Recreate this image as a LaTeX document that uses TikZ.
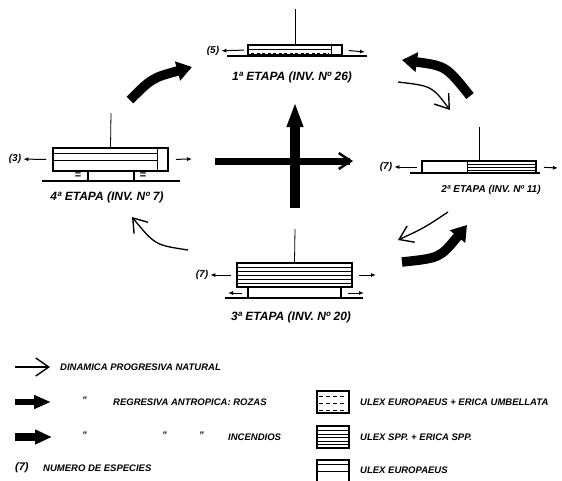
\documentclass[tikz,border=0pt]{standalone}
\usepackage{fontspec}
\setmainfont{Liberation Sans}
\usetikzlibrary{arrows.meta}

\tikzset{
  etapa/.style={font=\fontsize{12}{12}\selectfont\bfseries\itshape, inner sep=0pt},
  leyenda/.style={font=\fontsize{9.5}{10}\selectfont\bfseries\itshape, inner sep=0pt, anchor=west},
  cuenta/.style={font=\fontsize{10}{10}\selectfont\bfseries\itshape, inner sep=0pt},
  caja/.style={draw, line width=1.6pt, inner sep=0pt},
  suelo/.style={line width=1.6pt},
  tallo/.style={line width=0.8pt},
  capa/.style={line width=0.7pt},
  flujo/.style={line width=1pt, -{Latex[length=5pt,width=4pt]}},
  natural/.style={line width=1.3pt, -{Straight Barb[length=13pt,width=18pt,line width=1.4pt]}},
  rozas/.style={line width=9.5pt, -{Triangle[length=15pt,width=19pt]}},
}

\begin{document}
\begin{tikzpicture}[x=1pt, y=-1pt]
  \useasboundingbox (0,0) rectangle (562,480);

  % 1a etapa
  \node (b1) at (295,50) [caja, minimum width=94pt, minimum height=10pt] {};
  \draw[capa] (331,45) -- (331,55);
  \draw[capa] (248,49) -- (331,49);
  \draw[capa, dash pattern=on 3pt off 2.5pt] (251,53) -- (329,53);
  \coordinate (t1) at (295,9);
  \draw[tallo] (b1.north) -- (t1);
  \draw[suelo] (227,56) -- (367,56);
  \node (n5) at (213,51) [cuenta] {(5)};
  \coordinate (o1) at (365,52);
  \draw[flujo, shorten <=3pt, shorten >=2pt] (b1.west) -- (n5);
  \draw[flujo, shorten <=6pt] (b1.east) -- (o1);
  \node (e1) at (292,77) [etapa] {1ª ETAPA (INV. Nº 26)};

  % 2a etapa
  \node (b2) at (479,167) [caja, minimum width=114pt, minimum height=12pt] {};
  \draw[capa] (467,161) -- (467,173);
  \foreach \y in {164.5,167.5,170.5}
    \draw[capa] (467,\y) -- (536,\y);
  \coordinate (t2) at (479,127);
  \draw[tallo] (b2.north) -- (t2);
  \draw[suelo] (410,173) -- (540,173);
  \node (n7a) at (386,167) [cuenta] {(7)};
  \coordinate (o2) at (558,168);
  \draw[flujo, shorten <=4pt, shorten >=2pt] (b2.west) -- (n7a);
  \draw[flujo, shorten <=7pt] (b2.east) -- (o2);
  \node (e2) at (491,190) [etapa, font=\fontsize{10}{10}\selectfont\bfseries\itshape] {2ª ETAPA (INV. Nº 11)};

  % 3a etapa
  \node (b3) at (294.5,275) [caja, minimum width=115pt, minimum height=24pt] {};
  \foreach \y in {267,271,275,279,283}
    \draw[capa] (237,\y) -- (352,\y);
  \coordinate (t3) at (295,229);
  \draw[tallo] (b3.north) -- (t3);
  \draw[line width=1.2pt] (248,287) -- (248,298) (341,287) -- (341,298);
  \draw[suelo] (225,298) -- (363,298);
  \coordinate (p3a) at (242,293); \coordinate (q3a) at (228,293);
  \coordinate (p3b) at (348,293); \coordinate (q3b) at (364,293);
  \draw[flujo] (p3a) -- (q3a);
  \draw[flujo] (p3b) -- (q3b);
  \node (n7b) at (202,275) [cuenta] {(7)};
  \coordinate (o3) at (376,275);
  \draw[flujo, shorten <=5pt, shorten >=2pt] (b3.west) -- (n7b);
  \draw[flujo, shorten <=6pt] (b3.east) -- (o3);
  \node (e3) at (291,317) [etapa] {3ª ETAPA (INV. Nº 20)};

  % 4a etapa
  \node (b4) at (110.5,159.5) [caja, minimum width=115pt, minimum height=23pt] {};
  \draw[capa] (157,148) -- (157,171);
  \draw[capa] (53,153) -- (157,153) (53,160) -- (157,160);
  \coordinate (t4) at (111,113);
  \draw[tallo] (b4.north) -- (t4);
  \draw[line width=1.2pt] (88,171) -- (88,181) (134,171) -- (134,181);
  \draw[suelo] (42,181) -- (180,181);
  \node (eq1) at (78,176) [cuenta, font=\fontsize{11}{11}\selectfont\bfseries] {=};
  \node (eq2) at (143,176) [cuenta, font=\fontsize{11}{11}\selectfont\bfseries] {=};
  \node (n3) at (15,159) [cuenta] {(3)};
  \coordinate (o4) at (192,159);
  \draw[flujo, shorten <=6pt, shorten >=2pt] (b4.west) -- (n3);
  \draw[flujo, shorten <=7pt] (b4.east) -- (o4);
  \node (e4) at (107,197) [etapa] {4ª ETAPA (INV. Nº 7)};

  % ciclo
  \coordinate (r41s) at (130,100); \coordinate (r41e) at (192,67);
  \draw[rozas] (r41s) .. controls (152,78) .. (r41e);
  \coordinate (r21s) at (470,96); \coordinate (r21e) at (402,60);
  \draw[rozas] (r21s) .. controls (446,66) .. (r21e);
  \coordinate (r32s) at (402,262); \coordinate (r32e) at (467,225);
  \draw[rozas] (r32s) .. controls (440,258) .. (r32e);
  \coordinate (n12s) at (398,82); \coordinate (n12e) at (450,110);
  \draw[natural] (n12s) .. controls (432,86) .. (n12e);
  \coordinate (n23s) at (448,212); \coordinate (n23e) at (398,240);
  \draw[natural] (n23s) .. controls (424,228) .. (n23e);
  \coordinate (n34s) at (188,250); \coordinate (n34e) at (132,217);
  \draw[natural] (n34s) .. controls (155,245) .. (n34e);

  % cruz central
  \coordinate (h1) at (215,161); \coordinate (h2) at (353,161);
  \draw[line width=7pt, -{Straight Barb[length=12pt,width=16pt,line width=2.5pt]}] (h1) -- (h2);
  \coordinate (v1) at (295,208); \coordinate (v2) at (295,102);
  \draw[line width=10pt, -{Triangle[length=25pt,width=15pt]}] (v1) -- (v2);

  % leyenda
  \coordinate (l1a) at (15,367); \coordinate (l1b) at (50,367);
  \draw[natural] (l1a) -- (l1b);
  \node (ley1) at (60,367) [leyenda] {DINAMICA PROGRESIVA NATURAL};
  \coordinate (l2a) at (15,402); \coordinate (l2b) at (51,402);
  \draw[line width=6.5pt, -{Triangle[length=17pt,width=13pt]}] (l2a) -- (l2b);
  \node (c2) at (82,400) [leyenda] {''};
  \node (ley2) at (113,402) [leyenda] {REGRESIVA ANTROPICA: ROZAS};
  \coordinate (l3a) at (15,437); \coordinate (l3b) at (52,437);
  \draw[line width=8pt, -{Triangle[length=17pt,width=14pt]}] (l3a) -- (l3b);
  \node (c3a) at (82,435) [leyenda] {''};
  \node (c3b) at (162,435) [leyenda] {''};
  \node (c3c) at (199,435) [leyenda] {''};
  \node (ley3) at (228,437) [leyenda] {INCENDIOS};
  \node (n7c) at (15,468) [cuenta, anchor=west, font=\fontsize{11}{11}\selectfont\bfseries\itshape] {(7)};
  \node (ley4) at (43,468) [leyenda] {NUMERO DE ESPECIES};

  \node (k1) at (333,402) [caja, minimum width=32pt, minimum height=22pt] {};
  \foreach \y in {396,403,410}
    \draw[capa, dash pattern=on 4pt off 3pt] (319,\y) -- (347,\y);
  \node (k2) at (333,437) [caja, minimum width=32pt, minimum height=22pt] {};
  \foreach \y in {430.5,434,437.5,441,444.5}
    \draw[capa] (317,\y) -- (349,\y);
  \node (k3) at (333,471) [caja, minimum width=32pt, minimum height=22pt] {};
  \draw[capa] (317,464) -- (349,464) (317,471) -- (349,471);
  \node (ley5) at (360,402) [leyenda] {ULEX EUROPAEUS + ERICA UMBELLATA};
  \node (ley6) at (360,437) [leyenda] {ULEX SPP. + ERICA SPP.};
  \node (ley7) at (360,470) [leyenda] {ULEX EUROPAEUS};
\end{tikzpicture}
\end{document}
